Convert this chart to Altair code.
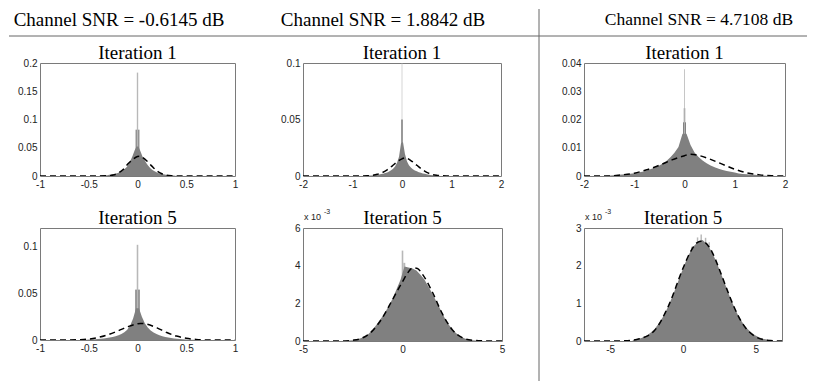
import altair as alt
import numpy as np
import pandas as pd

# ---------------- data ----------------
headers = ["Channel SNR = -0.6145 dB", "Channel SNR = 1.8842 dB", "Channel SNR = 4.7108 dB"]
header_size = [19, 19, 17.5]
titles = ["Iteration 1", "Iteration 1", "Iteration 1", "Iteration 5", "Iteration 5", "Iteration 5"]

# Panel 1 (SNR -0.6145, it 1)
p1_lo, p1_w = -0.40, 0.02
p1_h = [0.0005, 0.0007, 0.001, 0.0012, 0.0015, 0.002, 0.0025, 0.003, 0.004, 0.005,
        0.006, 0.008, 0.010, 0.013, 0.016, 0.021, 0.028, 0.036, 0.045, 0.052,
        0.052, 0.044, 0.035, 0.029, 0.023, 0.018, 0.014, 0.011, 0.009, 0.007,
        0.0055, 0.0045, 0.0035, 0.003, 0.0022, 0.0017, 0.0013, 0.001, 0.0008, 0.0005]
p1_sp_lo = [-0.02, -0.007]
p1_sp_hi = [0.02, 0.007]
p1_sp_h = [0.082, 0.183]
p1_sp_c = ["#8c8c8c", "#b8b8b8"]
p1_fit_x = [-1, -0.4, -0.3, -0.25, -0.2, -0.15, -0.1, -0.05, 0, 0.02, 0.05, 0.1, 0.15, 0.2, 0.25, 0.3, 0.35, 0.4, 1]
p1_fit_y = [0, 0, 0.0004, 0.0016, 0.005, 0.011, 0.021, 0.029, 0.0345, 0.035, 0.033, 0.026, 0.017, 0.009, 0.004, 0.0013, 0.0003, 0, 0]

# Panel 2 (SNR 1.8842, it 1)
p2_lo, p2_w = -0.80, 0.04
p2_h = [0.0001, 0.0002, 0.0003, 0.0004, 0.0005, 0.0007, 0.0009, 0.0011, 0.0014, 0.0017,
        0.0021, 0.0026, 0.0032, 0.0040, 0.0050, 0.0064, 0.0085, 0.0118, 0.0170, 0.0290,
        0.0300, 0.0195, 0.0130, 0.0095, 0.0075, 0.0060, 0.0049, 0.0041, 0.0034, 0.0028,
        0.0023, 0.0019, 0.0015, 0.0012, 0.0009, 0.0007, 0.0005, 0.0003, 0.0002, 0.0001]
p2_sp_lo = [-0.02, -0.006]
p2_sp_hi = [0.02, 0.006]
p2_sp_h = [0.050, 0.100]
p2_sp_c = ["#8c8c8c", "#b8b8b8"]
p2_fit_x = [-2, -0.9, -0.7, -0.6, -0.5, -0.4, -0.3, -0.2, -0.1, 0, 0.05, 0.1, 0.2, 0.3, 0.4, 0.5, 0.6, 0.7, 0.8, 0.9, 2]
p2_fit_y = [0, 0, 0.0002, 0.0006, 0.0015, 0.003, 0.0055, 0.0088, 0.0125, 0.0152, 0.016, 0.0157, 0.013, 0.0095, 0.006, 0.0032, 0.0015, 0.0006, 0.0002, 0, 0]

# Panel 3 (SNR 4.7108, it 1)
p3_lo, p3_w = -1.60, 0.08
p3_h = [0.0001, 0.0002, 0.0003, 0.0004, 0.0005, 0.0006, 0.0008, 0.0010, 0.0012, 0.0015,
        0.0019, 0.0024, 0.0029, 0.0035, 0.0043, 0.0053, 0.0066, 0.0082, 0.0103, 0.0150,
        0.0150, 0.0110, 0.0083, 0.0067, 0.0055, 0.0045, 0.0037, 0.0031, 0.0026, 0.0021,
        0.0018, 0.0015, 0.0012, 0.0009, 0.0007, 0.0006, 0.0005, 0.0004, 0.0003, 0.0002,
        0.0001, 0.0001]
p3_sp_lo = [-0.03, -0.015, -0.008]
p3_sp_hi = [0.03, 0.015, 0.008]
p3_sp_h = [0.019, 0.024, 0.0378]
p3_sp_c = ["#808080", "#8c8c8c", "#b8b8b8"]
p3_fit_x = [-2, -1.5, -1.25, -1.0, -0.75, -0.5, -0.25, 0, 0.1, 0.25, 0.5, 0.75, 1.0, 1.25, 1.5, 1.75, 2]
p3_fit_y = [0, 0, 0.0004, 0.001, 0.0022, 0.0038, 0.0057, 0.0072, 0.0077, 0.0074, 0.006, 0.0042, 0.0024, 0.0011, 0.0004, 0.0001, 0]

# Panel 4 (SNR -0.6145, it 5)
p4_lo, p4_w = -0.60, 0.03
p4_h = [0.0002, 0.0003, 0.0004, 0.0005, 0.0007, 0.0009, 0.0011, 0.0014, 0.0017, 0.0021,
        0.0026, 0.0032, 0.0040, 0.0050, 0.0064, 0.0082, 0.0110, 0.0155, 0.0230, 0.0340,
        0.0340, 0.0250, 0.0180, 0.0135, 0.0102, 0.0080, 0.0063, 0.0050, 0.0040, 0.0032,
        0.0026, 0.0021, 0.0017, 0.0013, 0.0010, 0.0008, 0.0006, 0.0004, 0.0003, 0.0002]
p4_sp_lo = [-0.024, -0.008]
p4_sp_hi = [0.024, 0.008]
p4_sp_h = [0.054, 0.102]
p4_sp_c = ["#8c8c8c", "#b8b8b8"]
p4_fit_x = [-1, -0.7, -0.6, -0.5, -0.4, -0.3, -0.2, -0.1, 0, 0.03, 0.1, 0.2, 0.3, 0.4, 0.5, 0.6, 0.7, 1]
p4_fit_y = [0, 0, 0.0003, 0.001, 0.0028, 0.0058, 0.0098, 0.0142, 0.0174, 0.0178, 0.0168, 0.0130, 0.0080, 0.0042, 0.0018, 0.0006, 0.0001, 0]

# Panel 5 (SNR 1.8842, it 5) -- values in units of 1e-3
p5_lo, p5_w = -3.0, 0.2
p5_h = [0.01, 0.02, 0.04, 0.08, 0.14, 0.23, 0.38, 0.60, 0.88, 1.17,
        1.48, 1.84, 2.25, 2.75, 3.25, 3.95, 3.90, 3.85, 3.74, 3.52,
        3.27, 2.90, 2.52, 2.10, 1.68, 1.26, 0.90, 0.63, 0.41, 0.25,
        0.14, 0.07, 0.04, 0.02, 0.01]
p5_sp_lo = [-0.04, 0.04]
p5_sp_hi = [0.04, 0.14]
p5_sp_h = [4.8, 4.15]
p5_sp_c = ["#b8b8b8", "#b8b8b8"]
p5_fit_x = [-5, -3, -2.5, -2, -1.5, -1, -0.5, 0, 0.25, 0.5, 0.75, 1.0, 1.5, 2, 2.5, 3, 3.5, 4, 5]
p5_fit_y = [0, 0, 0.04, 0.17, 0.55, 1.25, 2.2, 3.15, 3.6, 3.88, 3.85, 3.55, 2.6, 1.45, 0.6, 0.18, 0.04, 0.01, 0]

# Panel 6 (SNR 4.7108, it 5) -- values in units of 1e-3
p6_lo, p6_w = -3.6, 0.3
p6_h = [0.027, 0.048, 0.08, 0.13, 0.21, 0.32, 0.47, 0.66, 0.89, 1.16,
        1.46, 1.77, 2.07, 2.33, 2.52, 2.64, 2.68, 2.56, 2.39, 2.14,
        1.85, 1.55, 1.24, 0.96, 0.71, 0.51, 0.35, 0.24, 0.15, 0.09,
        0.055, 0.03, 0.02]
p6_sp_lo = [0.55, 0.95, 1.2, 1.5, 1.75]
p6_sp_hi = [0.65, 1.05, 1.3, 1.6, 1.85]
p6_sp_h = [2.50, 2.75, 2.83, 2.74, 2.62]
p6_sp_c = ["#b8b8b8"] * 5
p6_fit_x = [-6.8, -5, -4, -3, -2, -1, 0, 0.5, 1.0, 1.25, 1.5, 2.0, 2.5, 3.0, 3.5, 4, 4.5, 5, 5.5, 6, 6.8]
p6_fit_y = [0, 0, 0.005, 0.06, 0.26, 0.93, 1.93, 2.36, 2.62, 2.65, 2.62, 2.36, 1.9, 1.39, 0.91, 0.52, 0.26, 0.11, 0.04, 0.012, 0]

GRAY = "#808080"
FRAME = "#7a7a7a"
SERIF = "Liberation Serif"
SANS = "Liberation Sans"

one = alt.Data(values=[{"a": 0}])


def hist_df(lo, w, heights):
    # fine histogram drawn as a filled outline through the bin centres
    n = len(heights)
    xs = lo + w * (np.arange(n) + 0.5)
    return pd.DataFrame({"x": xs, "h": heights})


def panel(lo, w, heights, sp_lo, sp_hi, sp_h, sp_c, fx, fy, xdom, ydom, xticks, yticks, title, pw, ph, extra=()):
    xs = alt.Scale(domain=xdom, nice=False, zero=False)
    ys = alt.Scale(domain=ydom, nice=False, zero=False)
    xa = alt.Axis(values=xticks, labelExpr="datum.value + ''", ticks=False, domain=False, grid=False,
                  labelPadding=3, labelFlush=False, labelOverlap=False)
    ya = alt.Axis(values=yticks, labelExpr="datum.value + ''", ticks=False, domain=False, grid=False,
                  labelPadding=3, labelFlush=False, labelOverlap=False)
    sp = alt.Chart(pd.DataFrame({"x0": sp_lo, "x1": sp_hi, "h": sp_h, "c": sp_c})).mark_rect(clip=True).encode(
        x=alt.X("x0:Q", scale=xs, axis=xa, title=None), x2="x1",
        y=alt.Y("h:Q", scale=ys, axis=ya, title=None), y2=alt.datum(0),
        color=alt.Color("c:N", scale=None),
    )
    body = alt.Chart(hist_df(lo, w, heights)).mark_area(
        color=GRAY, interpolate="linear", clip=True
    ).encode(
        x=alt.X("x:Q", scale=xs, axis=xa, title=None),
        y=alt.Y("h:Q", scale=ys, axis=ya, title=None), y2=alt.datum(0),
    )
    fit = alt.Chart(pd.DataFrame({"x": fx, "y": fy})).mark_line(
        color="black", strokeDash=[6, 4], strokeWidth=1.5, clip=True, interpolate="monotone"
    ).encode(
        x=alt.X("x:Q", scale=xs, axis=xa, title=None),
        y=alt.Y("y:Q", scale=ys, axis=ya, title=None),
    )
    ttl = alt.Chart(one).mark_text(font=SERIF, fontSize=19, align="center", baseline="middle", color="black").encode(
        x=alt.value(pw / 2), y=alt.value(-10), text=alt.value(title))
    return alt.layer(sp, body, fit, ttl, *extra).properties(
        width=pw, height=ph,
        view=alt.ViewBackground(stroke=FRAME, strokeWidth=1),
    )


# decorations attached to panel 1 (pixel offsets relative to panel 1 origin)
deco = [
    alt.Chart(one).mark_rule(color="#666", strokeWidth=1).encode(x=alt.value(-31), x2=alt.value(767), y=alt.value(-27)),
    alt.Chart(one).mark_rule(color="#666", strokeWidth=1).encode(x=alt.value(499), y=alt.value(-54), y2=alt.value(318)),
]
for hx, htxt, hs in zip([79, 343, 659], headers, header_size):
    deco.append(alt.Chart(one).mark_text(font=SERIF, fontSize=hs, align="center", baseline="middle", color="black")
                .encode(x=alt.value(hx), y=alt.value(-43), text=alt.value(htxt)))


def exponent():
    return [
        alt.Chart(one).mark_text(font=SANS, fontSize=9, align="left", baseline="alphabetic", color="#222")
        .encode(x=alt.value(1), y=alt.value(-8), text=alt.value("x 10")),
        alt.Chart(one).mark_text(font=SANS, fontSize=7, align="left", baseline="alphabetic", color="#222")
        .encode(x=alt.value(21), y=alt.value(-14), text=alt.value("-3")),
    ]


p1 = panel(p1_lo, p1_w, p1_h, p1_sp_lo, p1_sp_hi, p1_sp_h, p1_sp_c, p1_fit_x, p1_fit_y,
           [-1, 1], [0, 0.2], [-1, -0.5, 0, 0.5, 1], [0, 0.05, 0.1, 0.15, 0.2], titles[0], 195, 113, deco)
p2 = panel(p2_lo, p2_w, p2_h, p2_sp_lo, p2_sp_hi, p2_sp_h, p2_sp_c, p2_fit_x, p2_fit_y,
           [-2, 2], [0, 0.1], [-2, -1, 0, 1, 2], [0, 0.05, 0.1], titles[1], 198, 113)
p3 = panel(p3_lo, p3_w, p3_h, p3_sp_lo, p3_sp_hi, p3_sp_h, p3_sp_c, p3_fit_x, p3_fit_y,
           [-2, 2], [0, 0.04], [-2, -1, 0, 1, 2], [0, 0.01, 0.02, 0.03, 0.04], titles[2], 201, 113)
p4 = panel(p4_lo, p4_w, p4_h, p4_sp_lo, p4_sp_hi, p4_sp_h, p4_sp_c, p4_fit_x, p4_fit_y,
           [-1, 1], [0, 0.12], [-1, -0.5, 0, 0.5, 1], [0, 0.05, 0.1], titles[3], 195, 112)
p5 = panel(p5_lo, p5_w, p5_h, p5_sp_lo, p5_sp_hi, p5_sp_h, p5_sp_c, p5_fit_x, p5_fit_y,
           [-5, 5], [0, 6], [-5, 0, 5], [0, 2, 4, 6], titles[4], 199, 113, exponent())
p6 = panel(p6_lo, p6_w, p6_h, p6_sp_lo, p6_sp_hi, p6_sp_h, p6_sp_c, p6_fit_x, p6_fit_y,
           [-6.8, 6.8], [0, 3], [-5, 0, 5], [0, 1, 2, 3], titles[5], 198, 113, exponent())


def spacer(w, h):
    return alt.Chart(one).mark_point(opacity=0).encode(x=alt.value(0), y=alt.value(0)).properties(
        width=w, height=h, view=alt.ViewBackground(stroke="transparent", strokeOpacity=0))


chart = alt.concat(
    p1, spacer(68, 113), p2, spacer(79, 113), p3,
    p4, spacer(68, 113), p5, spacer(82, 113), p6,
    columns=5, spacing={"row": 52, "column": 0}, bounds="flush", align="none",
).properties(padding=0, background="white").configure_axis(
    labelFont=SANS, labelFontSize=10, labelColor="#222"
).configure_view(stroke="transparent")

chart.save("out.html", embed_options={"renderer": "svg", "actions": False})
